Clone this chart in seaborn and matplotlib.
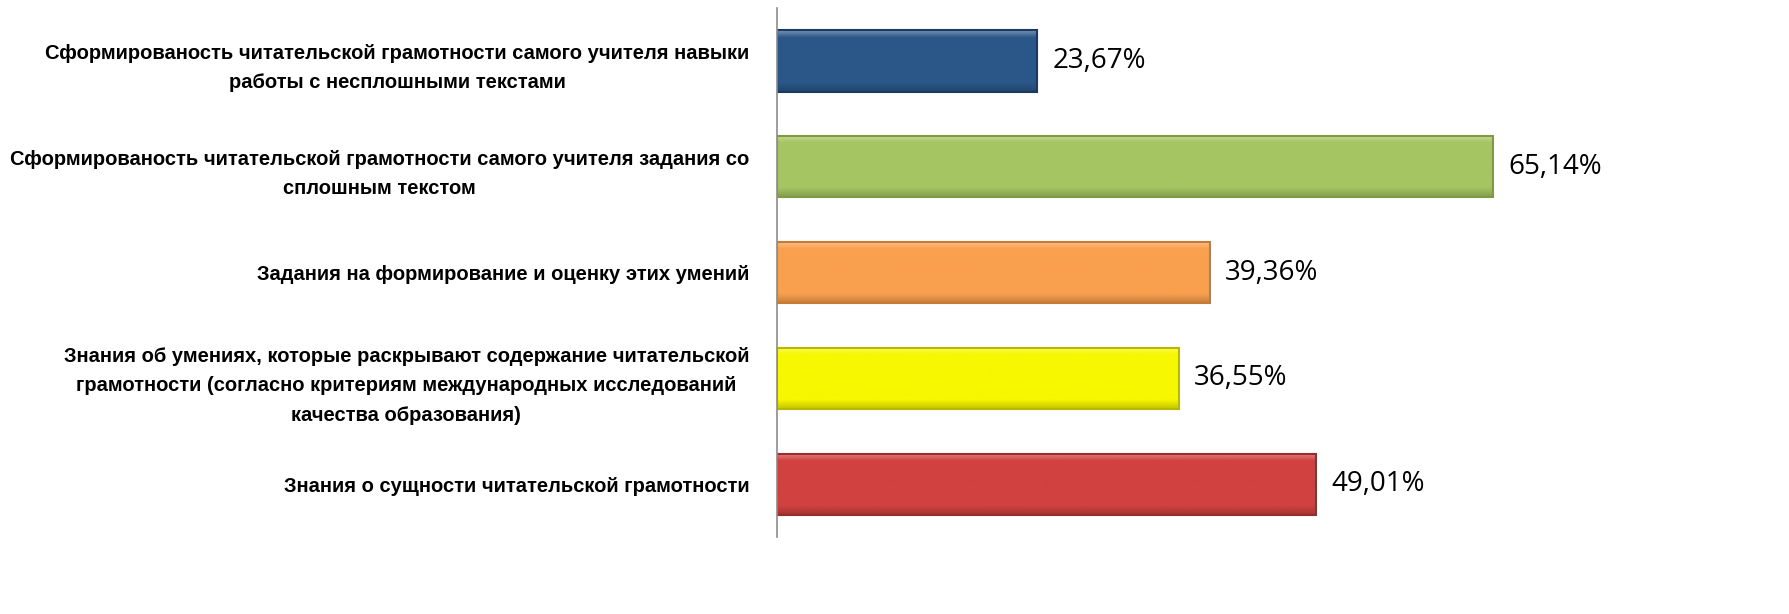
import matplotlib
matplotlib.use('Agg')
import matplotlib.pyplot as plt
import matplotlib.colors as mcolors
import seaborn as sns
import numpy as np
import pandas as pd

categories = [
    'Сформированость читательской грамотности самого учителя навыки\nработы с несплошными текстами',
    'Сформированость читательской грамотности самого учителя задания со\nсплошным текстом',
    'Задания на формирование и оценку этих умений',
    'Знания об умениях, которые раскрывают содержание читательской\nграмотности (согласно критериям международных исследований\nкачества образования)',
    'Знания о сущности читательской грамотности',
]
values = [23.67, 65.14, 39.36, 36.55, 49.01]
colors = ['#2A5788', '#A5C563', '#F9A04E', '#F7F700', '#D0413F']
edges = ['#1B3A5E', '#7F9A45', '#C77A33', '#B8B800', '#9A2C2A']

df = pd.DataFrame({'cat': categories, 'val': values})

sns.set_style('white')
plt.rcParams['font.family'] = ['Liberation Sans', 'DejaVu Sans']

fig = plt.figure(figsize=(17.89, 6.14), dpi=100)
ax = fig.add_axes([0.4343, 0.125, 0.43, 0.862])

sns.barplot(data=df, x='val', y='cat', hue='cat', palette=colors, legend=False,
            orient='h', width=0.58, ax=ax, saturation=1)

ax.set_xlim(0, 70)
ax.set_ylim(4.5, -0.5)

# bevel-like shading: light top edge, darker bottom, clipped to each bar
for patch, c, ec in zip(ax.patches, colors, edges):
    x0, y0 = patch.get_x(), patch.get_y()
    w, h = patch.get_width(), patch.get_height()
    base = np.array(mcolors.to_rgb(c))
    light = base + (1 - base) * 0.35
    dark = base * 0.8
    t = np.linspace(0, 1, 60)
    grad = np.empty((60, 1, 3))
    for k, tt in enumerate(t):
        if tt < 0.12:
            grad[k, 0] = light + (base - light) * (tt / 0.12)
        elif tt < 0.85:
            grad[k, 0] = base
        else:
            grad[k, 0] = base + (dark - base) * ((tt - 0.85) / 0.15)
    im = ax.imshow(grad, extent=[x0, x0 + w, y0 + h, y0], aspect='auto', zorder=patch.get_zorder() + 0.1)
    im.set_clip_path(patch)
    patch.set_edgecolor(ec)
    patch.set_linewidth(1.5)
    patch.set_zorder(patch.get_zorder() + 0.2)
    patch.set_facecolor('none')

ax.set_xlim(0, 70)
ax.set_ylim(4.5, -0.5)

# value labels to the right of each bar
for i, v in enumerate(values):
    ax.text(v + 1.4, i, f'{v:.2f}'.replace('.', ',') + '%', va='center', ha='left',
            fontsize=20, family=['Open Sans', 'DejaVu Sans'], color='black')

ax.set_xlabel('')
ax.set_ylabel('')
ax.set_xticks([])
ax.set_yticks(range(len(categories)))
ax.set_yticklabels(categories, fontsize=14.5, fontweight='bold', multialignment='center',
                   linespacing=1.7, color='black')
ax.tick_params(axis='y', length=0, pad=20)

for s in ['top', 'right', 'bottom']:
    ax.spines[s].set_visible(False)
ax.spines['left'].set_color('#8C8C8C')
ax.spines['left'].set_linewidth(1.2)

fig.savefig('out.png', dpi=100, facecolor='white')
